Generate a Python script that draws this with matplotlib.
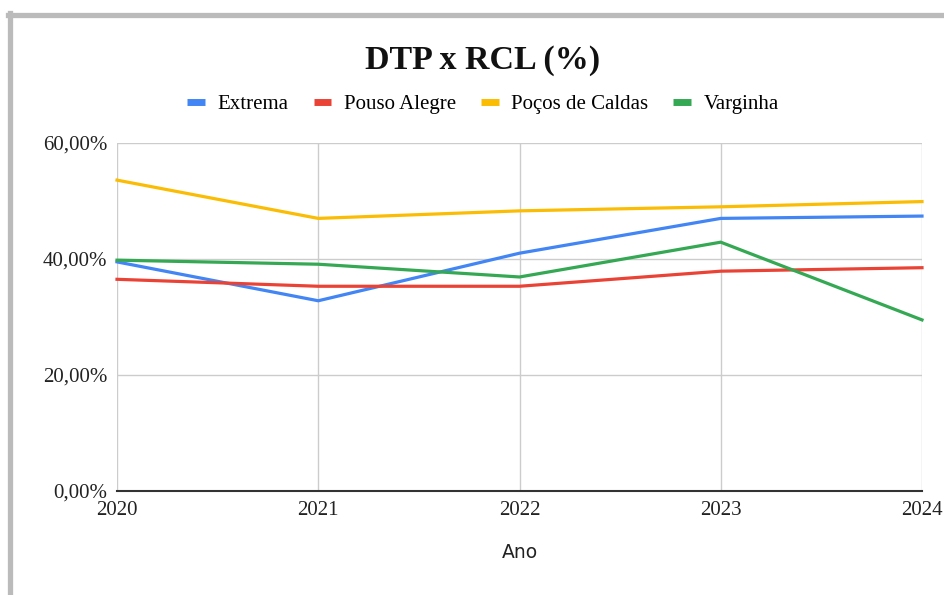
import matplotlib
matplotlib.use("Agg")
import matplotlib.pyplot as plt
from matplotlib.lines import Line2D
from matplotlib.ticker import FuncFormatter

# -------- data ----------
anos = [2020, 2021, 2022, 2023, 2024]
extrema = [39.5, 32.8, 41.0, 47.0, 47.4]
pouso_alegre = [36.5, 35.3, 35.3, 37.9, 38.5]
pocos_de_caldas = [53.6, 47.0, 48.3, 49.0, 49.9]
varginha = [39.8, 39.1, 36.9, 42.9, 29.5]

series = [
    ("Extrema", extrema, "#4285f4"),
    ("Pouso Alegre", pouso_alegre, "#ea4335"),
    ("Poços de Caldas", pocos_de_caldas, "#fbbc04"),
    ("Varginha", varginha, "#34a853"),
]

serif = ["Liberation Serif", "DejaVu Serif"]

fig = plt.figure(figsize=(9.44, 5.95), dpi=100)
ax = fig.add_axes([117 / 944, 1 - 491 / 595, (922 - 117) / 944, (491 - 143) / 595])

for nome, vals, cor in series:
    ax.plot(anos, vals, color=cor, linewidth=2.3, label=nome, clip_on=False,
            solid_joinstyle="miter")

ax.set_xlim(2020, 2024)
ax.set_ylim(0, 60)
ax.set_xticks(anos)
ax.set_yticks([0, 20, 40, 60])
ax.yaxis.set_major_formatter(FuncFormatter(lambda v, p: f"{v:.2f}%".replace(".", ",")))
ax.grid(True, color="#cccccc", linewidth=1)
ax.set_axisbelow(True)
for s in ["top", "right", "left"]:
    ax.spines[s].set_visible(False)
ax.spines["bottom"].set_color("#333333")
ax.spines["bottom"].set_linewidth(1.5)
ax.tick_params(length=0, labelsize=15, colors="#222222")
for lab in ax.get_xticklabels() + ax.get_yticklabels():
    lab.set_fontfamily(serif)
ax.tick_params(axis="x", pad=7)
ax.tick_params(axis="y", pad=7)

ax.set_xlabel("Ano", fontsize=13.5, color="#222222", labelpad=17)

fig.text(483 / 944, 1 - 60 / 595, "DTP x RCL (%)", ha="center", va="center",
         fontsize=24.5, fontweight="bold", family=serif, color="#111111")

handles = [Line2D([], [], color=c, linewidth=5, solid_capstyle="butt") for _, _, c in series]
fig.legend(handles, [n for n, _, _ in series], loc="center", bbox_to_anchor=(483 / 944, 1 - 104 / 595),
           ncol=4, frameon=False, prop={"family": serif, "size": 15}, handlelength=0.85,
           handletextpad=0.6, columnspacing=1.2)

# moldura cinza (topo e esquerda)
fig.add_artist(Line2D([8 / 944, 1], [1 - 15 / 595, 1 - 15 / 595], color="#bbbbbb", linewidth=3.8,
                      transform=fig.transFigure))
fig.add_artist(Line2D([10 / 944, 10 / 944], [1 - 13 / 595, 0], color="#bbbbbb", linewidth=3.8,
                      transform=fig.transFigure))

fig.savefig("out.png", dpi=100)
